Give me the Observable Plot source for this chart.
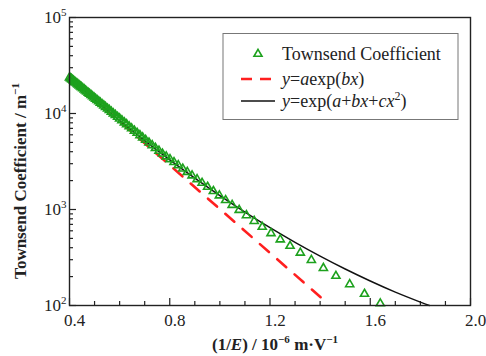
<!DOCTYPE html>
<html><head><meta charset="utf-8">
<script src="https://cdn.jsdelivr.net/npm/d3@7"></script>
<script src="https://cdn.jsdelivr.net/npm/@observablehq/plot@0.6"></script>
<style>html,body{margin:0;padding:0;background:#fff} svg{display:block} svg text{font-family:"Liberation Serif",serif}</style>
</head><body><div id="chart"></div>
<script>
// Measured Townsend coefficient (x = 1/E in 1e-6 m/V, y in 1/m)
const pointX = [0.400,0.404,0.408,0.412,0.416,0.421,0.425,0.430,0.434,0.439,0.444,0.448,0.453,0.459,0.464,0.469,0.475,0.480,0.486,0.492,0.498,0.504,0.510,0.517,0.523,0.530,0.537,0.544,0.552,0.559,0.567,0.575,0.583,0.592,0.600,0.609,0.619,0.628,0.638,0.648,0.659,0.670,0.681,0.692,0.704,0.717,0.730,0.743,0.757,0.771,0.786,0.801,0.817,0.834,0.852,0.870,0.889,0.909,0.929,0.951,0.974,0.998,1.023,1.049,1.077,1.106,1.137,1.169,1.204,1.241,1.280,1.321,1.365,1.413,1.463,1.518,1.577,1.640];
const pointY = [23700,23200,22800,22340,21930,21380,20940,20460,20050,19540,19100,18710,18280,17740,17300,16870,16370,15990,15520,15070,14620,14190,13770,13340,12940,12500,12080,11670,11220,10840,10400,10000,9620,9200,8850,8470,8050,7710,7330,6980,6610,6270,5930,5620,5300,4970,4660,4370,4080,3810,3565,3335,3110,2885,2660,2455,2260,2065,1890,1718,1552,1396,1250,1114,986,869,757,658,565,487,417,354,297,245,203,166,132,105];
// Fit y = a exp(bx)  (straight on log axis: end points)
const expFitX = [0.4, 1.402];
const expFitY = [23700, 122];
// Fit y = exp(a + bx + cx^2)
const quadFitX = [0.4,0.5,0.6,0.7,0.8,0.9,1.0,1.1,1.2,1.3,1.4,1.5,1.6,1.7,1.8,1.836];
const quadFitY = [23700,14010,8455,5217,3289,2120,1396,940,647,455,327,240,180,138,108.6,100];

const xTicks = [0.4,0.8,1.2,1.6,2.0];
const xMinorTicks = [0.5,0.6,0.7,0.9,1.0,1.1,1.3,1.4,1.5,1.7,1.8,1.9];
const yTicks = [100,1000,10000,100000];
const yTickExp = ["2","3","4","5"];
const yMinorTicks = [200,300,400,500,600,700,800,900,2000,3000,4000,5000,6000,7000,8000,9000,20000,30000,40000,50000,60000,70000,80000,90000];
const legendLabels = ["Townsend Coefficient","y=aexp(bx)","y=exp(a+bx+cx2)"];

const points = pointX.map((x,i)=>({x, y: pointY[i]}));
const expFit = expFitX.map((x,i)=>({x, y: expFitY[i]}));
const quadFit = quadFitX.map((x,i)=>({x, y: quadFitY[i]}));

const W=486, H=356, mL=69, mR=16, mT=17, mB=51;
const innerW = W-mL-mR, innerH = H-mT-mB;
const GREEN = "#1da11d", RED = "#ff1f1f", INK = "#222";
const FONT = "Liberation Serif";

const chart = Plot.plot({
  width: W, height: H,
  marginLeft: mL, marginRight: mR, marginTop: mT, marginBottom: mB,
  style: {fontFamily: FONT, fontSize: "17px", color: INK, background: "#fff", overflow: "visible"},
  x: {domain: [0.4, 2.0]},
  y: {type: "log", domain: [100, 100000]},
  marks: [
    Plot.tickY(yTicks, {y: d=>d, insetRight: innerW-7, stroke: INK, strokeWidth: 1.2}),
    Plot.tickY(yMinorTicks, {y: d=>d, insetRight: innerW-4, stroke: INK, strokeWidth: 1.2}),
    Plot.tickX(xTicks, {x: d=>d, insetTop: innerH-7, stroke: INK, strokeWidth: 1.2}),
    Plot.tickX(xMinorTicks, {x: d=>d, insetTop: innerH-4, stroke: INK, strokeWidth: 1.2}),
    Plot.axisX(xTicks, {tickSize: 0, tickPadding: 8, label: null, tickFormat: d=>d.toFixed(1), dx: 5, fill: INK, fontVariant: "normal"}),
    Plot.axisY(yTicks, {tickSize: 0, tickPadding: 3, label: null, tickFormat: d=>"10^"+yTickExp[yTicks.indexOf(d)], fill: INK, fontVariant: "normal"}),
    Plot.line(expFit, {x: "x", y: "y", stroke: RED, strokeWidth: 2.6, strokeDasharray: "12,11"}),
    Plot.line(quadFit, {x: "x", y: "y", stroke: "#111", strokeWidth: 1.4, curve: "natural"}),
    Plot.dot(points, {x: "x", y: "y", symbol: "triangle", r: 3, stroke: GREEN, strokeWidth: 1.6, fill: "none"}),
    Plot.frame({stroke: INK, strokeWidth: 1.4})
  ]
});
document.getElementById("chart").appendChild(chart);

const svg = d3.select(chart);
svg.selectAll('g[aria-label$="tick label"]').attr("font-size", 17);

// rich text helper: parts = [[text, {i:italic, sup:true}]]
function rich(sel, parts, supSize, supShift) {
  let up = false;
  for (const [s, st] of parts) {
    const o = st || {};
    const t = sel.append("tspan").text(s);
    if (o.i) t.attr("font-style", "italic");
    if (o.sup && !up) { t.attr("dy", -supShift).attr("font-size", supSize); up = true; }
    else if (o.sup) { t.attr("font-size", supSize); }
    else if (up) { t.attr("dy", supShift); up = false; }
  }
}

// y tick labels as 10 with superscript exponents
svg.selectAll('g[aria-label="y-axis tick label"] text').each(function() {
  const txt = d3.select(this).text();
  const [b, e] = txt.split("^");
  const el = d3.select(this).text("");
  rich(el, [[b], [e, {sup: true}]], "11px", 7);
});

// x-axis title
const xt = svg.append("text")
  .attr("x", 275).attr("y", 350)
  .attr("text-anchor", "middle")
  .attr("font-size", 17).attr("font-weight", "bold").attr("fill", INK);
rich(xt, [["(1/"], ["E", {i: true}], [") / 10"], ["\u22126", {sup: true}], [" m\u00b7V"], ["\u22121", {sup: true}]], "11px", 7);

// y-axis title
const yt = svg.append("text")
  .attr("transform", "translate(26,181) rotate(-90)")
  .attr("text-anchor", "middle")
  .attr("font-size", 17).attr("font-weight", "bold").attr("fill", INK);
rich(yt, [["Townsend Coefficient / m"], ["\u22121", {sup: true}]], "11px", 7);

// legend
const lg = svg.append("g").attr("font-size", 18).attr("fill", INK).attr("text-anchor", "start");
lg.append("rect").attr("x", 223).attr("y", 33.5).attr("width", 235).attr("height", 86)
  .attr("fill", "#fff").attr("stroke", "#777").attr("stroke-width", 1);
const rowsY = [54, 79, 101];
lg.append("path").attr("d", d3.symbol(d3.symbolTriangle, 28)())
  .attr("transform", `translate(258,${rowsY[0]})`).attr("fill", "none").attr("stroke", GREEN).attr("stroke-width", 1.6);
lg.append("line").attr("x1", 241).attr("x2", 274).attr("y1", rowsY[1]).attr("y2", rowsY[1])
  .attr("stroke", RED).attr("stroke-width", 2.6).attr("stroke-dasharray", "11,8");
lg.append("line").attr("x1", 241).attr("x2", 275).attr("y1", rowsY[2]).attr("y2", rowsY[2])
  .attr("stroke", "#111").attr("stroke-width", 1.4);
const tx = 282;
lg.append("text").attr("x", tx).attr("y", rowsY[0]).attr("dy", "0.35em").text(legendLabels[0]);
const l2 = lg.append("text").attr("x", tx).attr("y", rowsY[1]).attr("dy", "0.35em");
rich(l2, [["y", {i: true}], ["="], ["a", {i: true}], ["exp("], ["b", {i: true}], ["x", {i: true}], [")"]], "12px", 7);
const l3 = lg.append("text").attr("x", tx).attr("y", rowsY[2]).attr("dy", "0.35em");
rich(l3, [["y", {i: true}], ["=exp("], ["a", {i: true}], ["+"], ["b", {i: true}], ["x", {i: true}], ["+"], ["c", {i: true}], ["x", {i: true}], ["2", {sup: true}], [")"]], "12px", 7);
</script>
</body></html>
